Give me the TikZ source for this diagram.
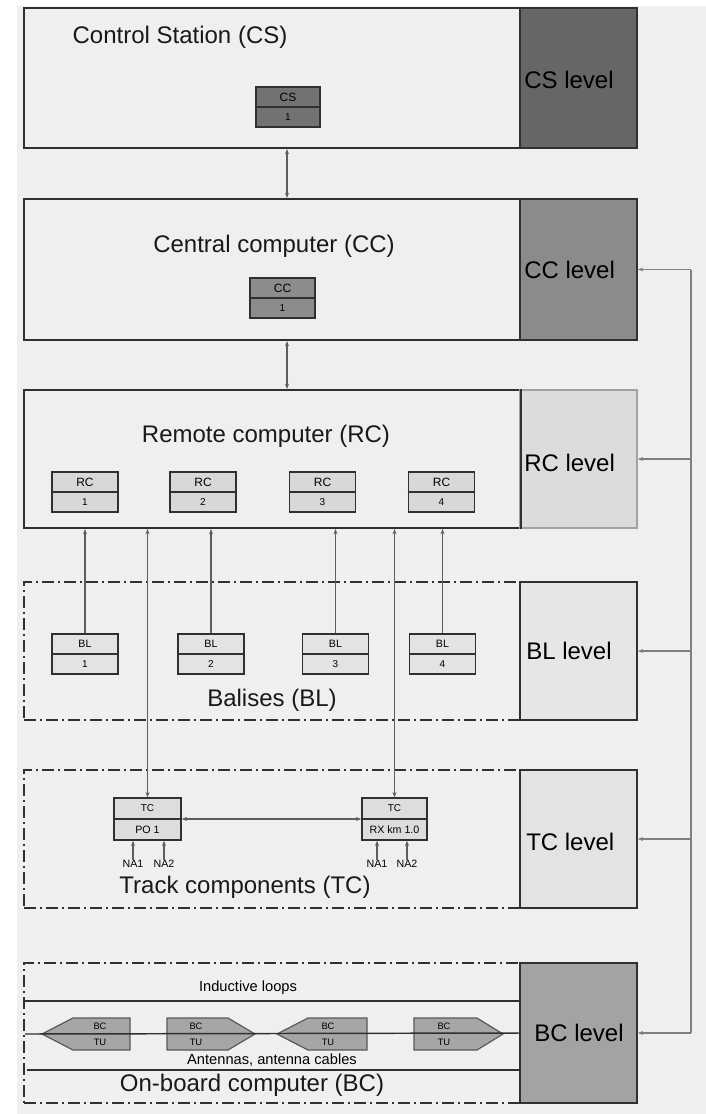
\documentclass[tikz,border=0pt]{standalone}
\usepackage{fontspec}
\setmainfont{Liberation Sans}
\usetikzlibrary{arrows.meta}
\definecolor{bg}{HTML}{EFEFEF}
\definecolor{lineC}{HTML}{303030}
\definecolor{connC}{HTML}{5E5E5E}
\definecolor{fbC}{HTML}{808080}
\definecolor{csL}{HTML}{666666}
\definecolor{ccL}{HTML}{8B8B8B}
\definecolor{rcL}{HTML}{DCDCDC}
\definecolor{blL}{HTML}{E6E6E6}
\definecolor{tcL}{HTML}{E3E3E3}
\definecolor{bcL}{HTML}{A3A3A3}
\definecolor{csS}{HTML}{727272}
\definecolor{ccS}{HTML}{8C8C8C}
\definecolor{rcS}{HTML}{D8D8D8}
\definecolor{blS}{HTML}{E3E3E3}
\definecolor{tcS}{HTML}{DDDDDD}
\definecolor{bcS}{HTML}{A6A6A6}
\newcommand\twobox[8]{%
  \node[smallbox, fill=#6, minimum width=#4, minimum height=#5] (#1) at (#2,#3) {};
  \draw[smallline] (#1.west) -- (#1.east);
  \node[toplab] (#1-t) at ([yshift=#5/4]#1.center) {#7};
  \node[botlab] (#1-b) at ([yshift=-#5/4]#1.center) {#8};
}
\begin{document}
\begin{tikzpicture}[x=0.75pt,y=-0.75pt,
  outerbox/.style={draw=lineC, line width=1.5pt, fill=bg, minimum width=372pt, inner sep=0pt},
  dashbox/.style={draw=lineC, line width=1.3pt, dash pattern=on 9pt off 3pt on 1.5pt off 3pt, minimum width=372pt, inner sep=0pt},
  lvlbox/.style={draw=lineC, line width=1.2pt, minimum width=87.75pt, inner sep=0pt},
  title/.style={font=\fontsize{18}{20}\selectfont, inner sep=0pt, text=black!90},
  lvltext/.style={font=\fontsize{18}{20}\selectfont, inner sep=0pt, text=black},
  smallbox/.style={draw=lineC, line width=1pt, inner sep=0pt},
  smallline/.style={draw=lineC, line width=1pt},
  toplab/.style={font=\fontsize{9}{10}\selectfont, inner sep=0pt},
  botlab/.style={font=\fontsize{7.5}{8}\selectfont, inner sep=0pt},
  conn/.style={draw=connC, line width=1.05pt},
  arr/.style={conn, -{Stealth[length=4pt,width=3pt]}},
  darr/.style={conn, {Stealth[length=4pt,width=3pt]}-{Stealth[length=4pt,width=3pt]}},
  fb/.style={draw=fbC, line width=0.9pt},
  fbarr/.style={fb, -{Stealth[length=4pt,width=3pt]}},
  bcshape/.style={draw=lineC!80, line width=0.9pt, fill=bcS},
  bcline/.style={draw=lineC, line width=1.1pt},
  smalltext/.style={font=\fontsize{11}{12}\selectfont, inner sep=0pt},
  natext/.style={font=\fontsize{8}{9}\selectfont, inner sep=0pt}
]
\useasboundingbox (0,0) rectangle (706,1114);
\fill[white] (0,0) rectangle (706,1114);
\fill[bg] (17,6) rectangle (706,1114);

% ---------- CS level ----------
\node[outerbox, minimum height=105pt] (csbox) at (272,78) {};
\node[lvlbox, fill=csL, minimum height=105pt, line width=1.5pt] (cslvl) at (578.5,78) {};
\node[title] (cstitle) at (180,37) {Control Station (CS)};
\node[lvltext, anchor=west] (cslvlt) at (524,80) {CS level};
\twobox{cs1}{288}{107}{48pt}{30pt}{csS}{CS}{1}

% ---------- CC level ----------
\node[outerbox, minimum height=105.75pt] (ccbox) at (272,269.5) {};
\node[lvlbox, fill=ccL, minimum height=105.75pt, line width=1.5pt] (cclvl) at (578.5,269.5) {};
\node[title] (cctitle) at (274,246) {Central computer (CC)};
\node[lvltext, anchor=west] (cclvlt) at (524,270) {CC level};
\twobox{cc1}{282.5}{298}{48.75pt}{30pt}{ccS}{CC}{1}

% ---------- RC level ----------
\node[outerbox, minimum height=103.5pt] (rcbox) at (272,459) {};
\node[lvlbox, fill=rcL, minimum height=103.5pt, draw=lineC!45] (rclvl) at (578.5,459) {};
\draw[lineC, line width=1.5pt] (rcbox.north east) -- (rcbox.south east);
\node[title] (rctitle) at (266,436) {Remote computer (RC)};
\node[lvltext, anchor=west] (rclvlt) at (524,463) {RC level};
\twobox{rc1}{85}{492}{49.5pt}{30pt}{rcS}{RC}{1}
\twobox{rc2}{203}{492}{49.5pt}{30pt}{rcS}{RC}{2}
\twobox{rc3}{322.5}{492}{49.5pt}{30pt}{rcS}{RC}{3}
\twobox{rc4}{441.5}{492}{49.5pt}{30pt}{rcS}{RC}{4}

% ---------- BL level ----------
\node[dashbox, minimum height=103.5pt] (blbox) at (272,651) {};
\node[lvlbox, fill=blL, minimum height=103.5pt] (bllvl) at (578.5,651) {};
\node[title] (bltitle) at (272,700) {Balises (BL)};
\node[lvltext, anchor=west] (bllvlt) at (526,651) {BL level};
\tikzset{toplab/.style={font=\fontsize{8}{9}\selectfont, inner sep=0pt},
         botlab/.style={font=\fontsize{7.5}{8}\selectfont, inner sep=0pt}}
\twobox{bl1}{85}{654}{49.5pt}{30pt}{blS}{BL}{1}
\twobox{bl2}{211}{654}{49.5pt}{30pt}{blS}{BL}{2}
\twobox{bl3}{335.5}{654}{49.5pt}{30pt}{blS}{BL}{3}
\twobox{bl4}{442.5}{654}{49.5pt}{30pt}{blS}{BL}{4}

% ---------- TC level ----------
\node[dashbox, minimum height=103.5pt] (tcbox) at (272,839) {};
\node[lvlbox, fill=tcL, minimum height=103.5pt] (tclvl) at (578.5,839) {};
\node[title] (tctitle) at (245,887) {Track components (TC)};
\node[lvltext, anchor=west] (tclvlt) at (526,842) {TC level};
\tikzset{toplab/.style={font=\fontsize{7.5}{8}\selectfont, inner sep=0pt},
         botlab/.style={font=\fontsize{8}{9}\selectfont, inner sep=0pt}}
\twobox{tc1}{147.5}{819}{50.25pt}{31.5pt}{tcS}{TC}{PO 1}
\twobox{tc2}{394.5}{819}{48.75pt}{31.5pt}{tcS}{TC}{RX km 1.0}
\node[natext] (na1a) at (133,864) {NA1};
\node[natext] (na2a) at (164,864) {NA2};
\node[natext] (na1b) at (377,864) {NA1};
\node[natext] (na2b) at (407,864) {NA2};

% ---------- BC level ----------
\node[dashbox, minimum height=105pt] (bcbox) at (272,1033) {};
\node[lvlbox, fill=bcL, minimum height=105pt] (bclvl) at (578.5,1033) {};
\node[title] (bctitle) at (252,1085) {On-board computer (BC)};
\node[lvltext] (bclvlt) at (579,1033) {BC level};

\coordinate (il-l) at (25,1001);
\coordinate (il-r) at (520,1001);
\coordinate (ant-l) at (27,1070);
\coordinate (ant-r) at (520,1070);
\coordinate (tu-l) at (25,1034);
\draw[bcline] (il-l) -- (il-r);
\draw[bcline] (ant-l) -- (ant-r);
\node[smalltext] (iltext) at (248,988) {Inductive loops};
\node[smalltext] (anttext) at (272,1060) {Antennas, antenna cables};

\draw[bcshape] (42,1034) -- (73,1018) -- (130,1018) -- (130,1050) -- (73,1050) -- cycle;
\draw[bcshape] (167,1018) -- (228,1018) -- (255,1034) -- (228,1050) -- (167,1050) -- cycle;
\draw[bcshape] (277,1034) -- (308,1018) -- (367,1018) -- (367,1050) -- (308,1050) -- cycle;
\draw[bcshape] (414,1018) -- (477,1018) -- (503,1034) -- (477,1050) -- (414,1050) -- cycle;
\draw[bcline] (tu-l) -- (bclvl.west);
\tikzset{bclab/.style={font=\fontsize{7}{8}\selectfont, inner sep=0pt}}
\node[bclab] (bc1t) at (100,1026) {BC};
\node[bclab] (bc1b) at (100,1042) {TU};
\node[bclab] (bc2t) at (196,1026) {BC};
\node[bclab] (bc2b) at (196,1042) {TU};
\node[bclab] (bc3t) at (328,1026) {BC};
\node[bclab] (bc3b) at (328,1042) {TU};
\node[bclab] (bc4t) at (444,1026) {BC};
\node[bclab] (bc4b) at (444,1042) {TU};

% ---------- connectors ----------
\coordinate (axis) at (287,0);
\draw[darr] (axis |- csbox.south) -- (axis |- ccbox.north);
\draw[darr] (axis |- ccbox.south) -- (axis |- rcbox.north);
\draw[arr] (bl1.north) -- (bl1.north |- rcbox.south);
\draw[arr] (bl2.north) -- (bl2.north |- rcbox.south);
\draw[arr] (bl3.north) -- (bl3.north |- rcbox.south);
\draw[arr] (bl4.north) -- (bl4.north |- rcbox.south);
\draw[darr] (tc1.north |- rcbox.south) -- (tc1.north);
\draw[darr] (tc2.north |- rcbox.south) -- (tc2.north);
\draw[darr] (tc1.east) -- (tc2.west);
\draw[arr] (na1a.north) -- (na1a.north |- tc1.south);
\draw[arr] (na2a.north) -- (na2a.north |- tc1.south);
\draw[arr] (na1b.north) -- (na1b.north |- tc2.south);
\draw[arr] (na2b.north) -- (na2b.north |- tc2.south);

% ---------- feedback line ----------
\coordinate (fbT) at (691,269.5);
\coordinate (fbB) at (691,1033);
\draw[fb] (fbT) -- (fbB);
\draw[fbarr] (fbT) -- (cclvl.east);
\draw[fbarr] (rclvl.east -| fbT) -- (rclvl.east);
\draw[fbarr] (bllvl.east -| fbT) -- (bllvl.east);
\draw[fbarr] (tclvl.east -| fbT) -- (tclvl.east);
\draw[fbarr] (fbB) -- (bclvl.east);
\end{tikzpicture}
\end{document}
